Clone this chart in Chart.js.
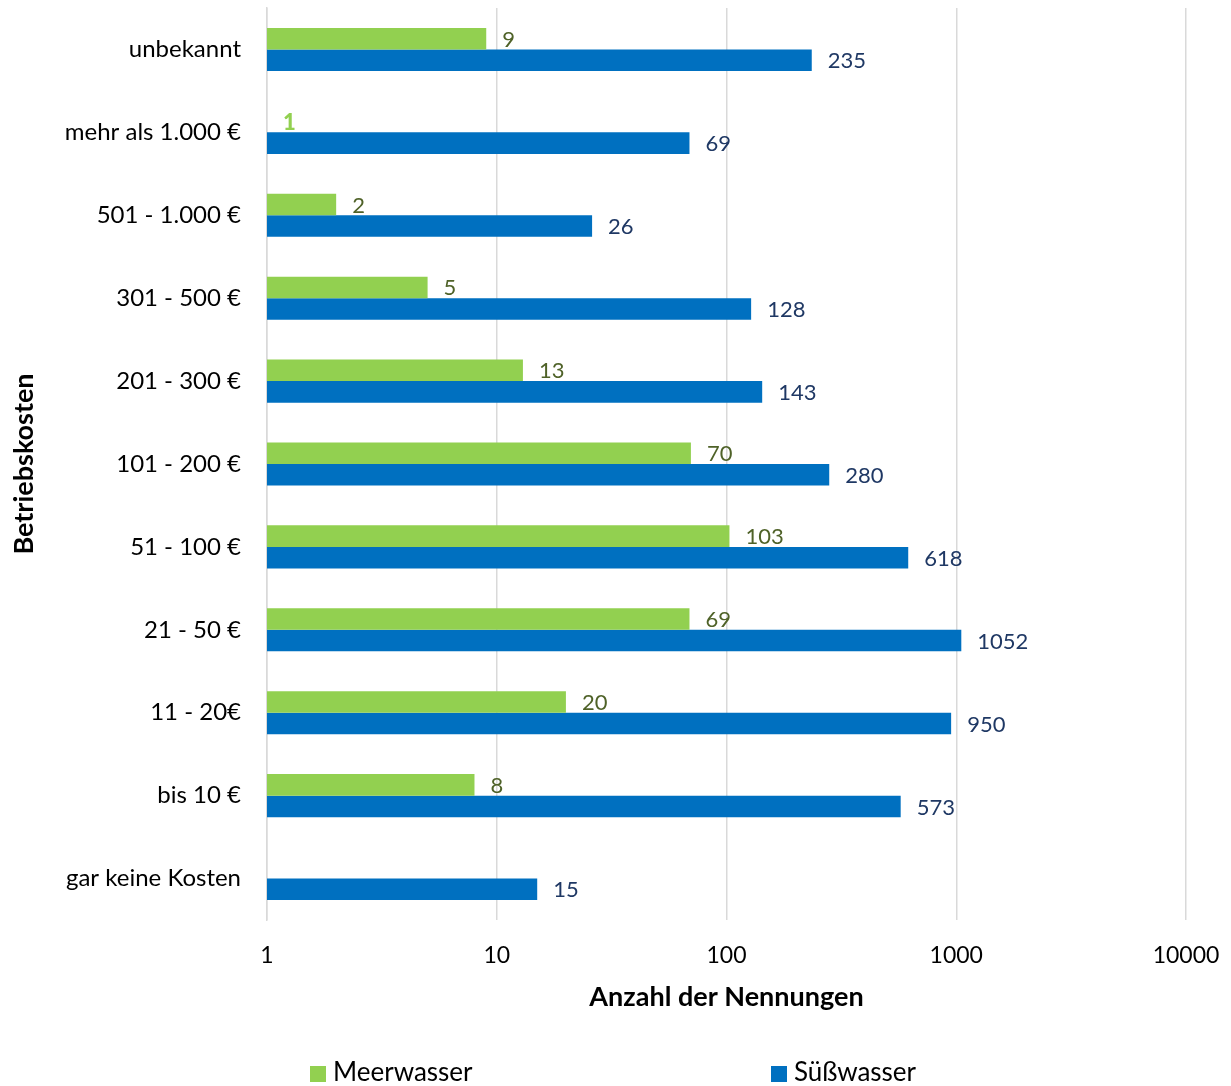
<!DOCTYPE html>
<html lang="de">
<head>
<meta charset="utf-8">
<script src="https://cdn.jsdelivr.net/npm/chart.js@4.4.1/dist/chart.umd.min.js"></script>
<style>
    body { margin: 0; background: #fff; }
    #wrap { position: relative; width: 1231px; height: 1086px; }
    #legend { position: absolute; left: 0; top: 1055px; width: 1231px; height: 32px;
              font-family: Lato, "Noto Sans", sans-serif; font-size: 26px; color: #000; }
    .item { position: absolute; top: 0; line-height: 32px; white-space: nowrap; }
    .box { display: inline-block; width: 16px; height: 16px; margin-right: 7px; vertical-align: -1px; }
</style>
</head>
<body>
<div id="wrap">
    <canvas id="costChart" width="1231" height="1086"></canvas>
    <div id="legend"></div>
</div>
<script>
// Betriebskosten categories, top to bottom
var categories = ["unbekannt", "mehr als 1.000 €", "501 - 1.000 €", "301 - 500 €",
    "201 - 300 €", "101 - 200 €", "51 - 100 €", "21 - 50 €", "11 - 20€",
    "bis 10 €", "gar keine Kosten"];

var meerwasser = [9, 1, 2, 5, 13, 70, 103, 69, 20, 8, null];
var suesswasser = [235, 69, 26, 128, 143, 280, 618, 1052, 950, 573, 15];

// log axis ticks
var tickValues = [1, 10, 100, 1000, 10000];

var greenColor = "#92D050";
var blueColor = "#0070C0";

var fontFamily = "Lato, 'Noto Sans', sans-serif";

//value labels right of each bar
var valueLabels = {
    id: "valueLabels",
    afterDatasetsDraw: function (chart) {
        var ctx = chart.ctx;
        ctx.save();
        ctx.textBaseline = "middle";
        ctx.textAlign = "left";
        chart.data.datasets.forEach(function (dataset, di) {
            var meta = chart.getDatasetMeta(di);
            meta.data.forEach(function (bar, i) {
                var v = dataset.data[i];
                if (v === null || v === undefined) return;
                // a bar of zero length gets its label in the bar colour
                var empty = v <= chart.scales.x.min;
                ctx.fillStyle = empty ? dataset.backgroundColor : dataset.labelColor;
                ctx.font = (empty ? "900 " : "") + "22px " + fontFamily;
                ctx.fillText(String(v), bar.x + 16, bar.y + 1);
            });
        });
        ctx.restore();
    }
};

var canvas = document.getElementById("costChart");
var ctx = canvas.getContext("2d");

var costChart = new Chart(ctx, {
    type: "bar",
    data: {
        labels: categories,
        datasets: [{
            label: "Meerwasser",
            data: meerwasser,
            backgroundColor: greenColor,
            labelColor: "#4F6228"
        }, {
            label: "Süßwasser",
            data: suesswasser,
            backgroundColor: blueColor,
            labelColor: "#1F3864"
        }]
    },
    options: {
        indexAxis: "y",
        responsive: false,
        animation: false,
        events: [],
        categoryPercentage: 0.52,
        barPercentage: 1,
        layout: {
            padding: { top: 8, right: 45, bottom: 73, left: 0 }
        },
        plugins: {
            legend: { display: false },
            tooltip: { enabled: false }
        },
        scales: {
            x: {
                type: "logarithmic",
                min: 1,
                max: 10000,
                afterBuildTicks: function (scale) {
                    scale.ticks = tickValues.map(function (v) { return { value: v }; });
                },
                afterFit: function (scale) {
                    scale.height = 93;
                    scale.paddingLeft = 0;
                    scale.paddingRight = 0;
                },
                grid: { color: "#D9D9D9", lineWidth: 1.5, drawTicks: false },
                border: { display: false },
                ticks: {
                    color: "#000",
                    padding: 22,
                    maxRotation: 0,
                    font: { family: fontFamily, size: 23 },
                    callback: function (value) { return String(value); }
                },
                title: {
                    display: true,
                    text: "Anzahl der Nennungen",
                    color: "#000",
                    font: { family: fontFamily, size: 27, weight: "bold" },
                    padding: { top: 8, bottom: 0 }
                }
            },
            y: {
                afterFit: function (scale) {
                    scale.width = 267;
                    scale.paddingTop = 0;
                    scale.paddingBottom = 0;
                },
                grid: { display: false, drawTicks: false },
                border: { color: "#D9D9D9", width: 1.5 },
                ticks: {
                    color: "#000",
                    padding: 26,
                    font: { family: fontFamily, size: 24 }
                },
                title: {
                    display: true,
                    text: "Betriebskosten",
                    color: "#000",
                    font: { family: fontFamily, size: 27, weight: "bold" },
                    padding: { top: 8, bottom: 0 }
                }
            }
        }
    },
    plugins: [valueLabels]
});

// legend below the chart
var legendDiv = document.getElementById("legend");
var legendX = [310, 771];
costChart.data.datasets.forEach(function (ds, i) {
    var item = document.createElement("span");
    item.className = "item";
    item.style.left = legendX[i] + "px";
    item.innerHTML = '<span class="box" style="background:' + ds.backgroundColor + '"></span>' + ds.label;
    legendDiv.appendChild(item);
});
</script>
</body>
</html>
